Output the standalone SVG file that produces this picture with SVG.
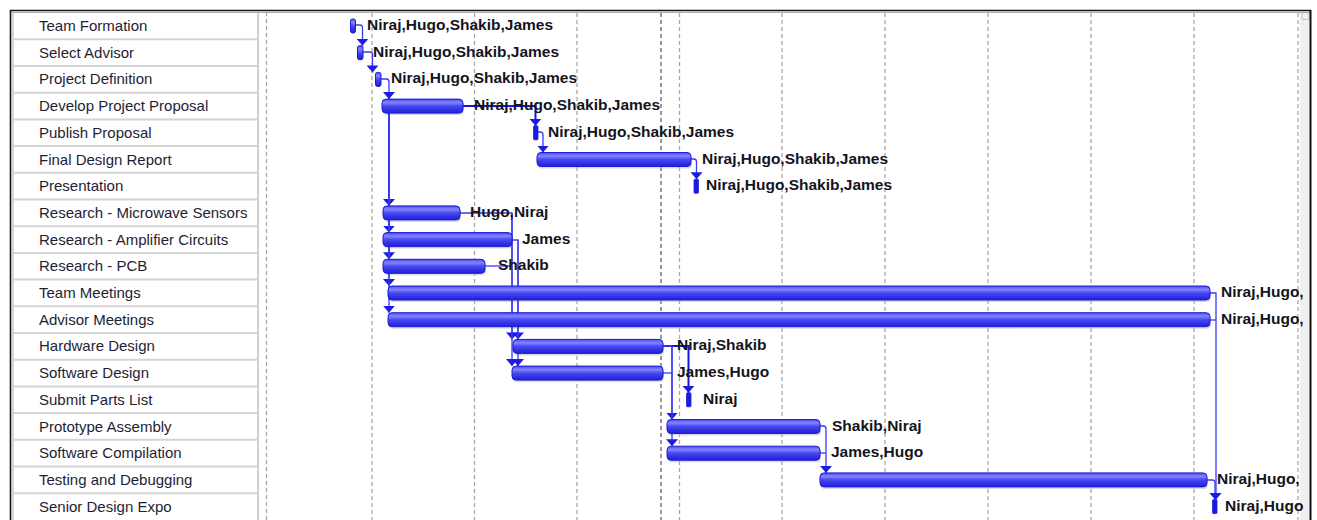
<svg xmlns="http://www.w3.org/2000/svg" width="1317" height="520" viewBox="0 0 1317 520">
<defs>
<linearGradient id="bg" x1="0" y1="0" x2="0" y2="1">
<stop offset="0" stop-color="#4a4af2"/>
<stop offset="0.25" stop-color="#8484ff"/>
<stop offset="0.5" stop-color="#4848f2"/>
<stop offset="1" stop-color="#1e1ed8"/>
</linearGradient>
<marker id="ah" viewBox="0 -6 7 12" refX="7" refY="0" markerWidth="7" markerHeight="12" orient="auto" markerUnits="userSpaceOnUse">
<path d="M0,-6 L7,0 L0,6 Z" fill="#1c1ce8"/>
</marker>
<style>
.name{font-family:"Liberation Sans",Arial,sans-serif;font-size:15px;fill:#1e1e34}
.res{font-family:"Liberation Sans",Arial,sans-serif;font-size:15.5px;font-weight:bold;fill:#14141c}
.bar{fill:url(#bg);stroke:#1c1cd0;stroke-width:1}
.sh{fill:#b8b8cc;opacity:0.55}
.mini{fill:#1a1ae6;stroke:#2020d0;stroke-width:0.8}
.sep{stroke:#d4d4d4;stroke-width:2}
.grid{stroke:#a8a8a8;stroke-width:1.3;stroke-dasharray:4 3}
.gdark{stroke:#606060;stroke-width:1.3;stroke-dasharray:4 3}
.c{fill:none;stroke:#3a3af4;stroke-width:1.3;marker-end:url(#ah)}
.cn{fill:none;stroke:#3a3af4;stroke-width:1.3}
.ct{fill:none;stroke:#1515e0;stroke-width:2;marker-end:url(#ah)}
</style>
</defs>
<rect x="0" y="0" width="1317" height="520" fill="#ffffff"/>
<g id="frame">
<rect x="1300" y="12" width="9" height="508" fill="#efefef"/>
<rect x="1302" y="12.5" width="7" height="7" fill="none" stroke="#bbbbbb" stroke-width="0.8"/>
<line x1="258" y1="12" x2="258" y2="520" stroke="#cfcfcf" stroke-width="2"/>
<line x1="266.5" y1="12" x2="266.5" y2="520" class="grid"/>
<line x1="10" y1="10.5" x2="1311" y2="10.5" stroke="#111" stroke-width="1.6"/>
<line x1="12" y1="12.5" x2="1310" y2="12.5" stroke="#9a9a9a" stroke-width="0.8"/>
<line x1="10.5" y1="10" x2="10.5" y2="520" stroke="#111" stroke-width="1.6"/>
<line x1="13" y1="12" x2="13" y2="520" stroke="#9a9a9a" stroke-width="0.8"/>
<line x1="1310.5" y1="10" x2="1310.5" y2="520" stroke="#111" stroke-width="2"/>
</g>
<g id="rows">
<line class="sep" x1="14" y1="39.3" x2="258" y2="39.3"/>
<line class="sep" x1="14" y1="66" x2="258" y2="66"/>
<line class="sep" x1="14" y1="92.7" x2="258" y2="92.7"/>
<line class="sep" x1="14" y1="119.4" x2="258" y2="119.4"/>
<line class="sep" x1="14" y1="146.1" x2="258" y2="146.1"/>
<line class="sep" x1="14" y1="172.8" x2="258" y2="172.8"/>
<line class="sep" x1="14" y1="199.5" x2="258" y2="199.5"/>
<line class="sep" x1="14" y1="226.2" x2="258" y2="226.2"/>
<line class="sep" x1="14" y1="252.9" x2="258" y2="252.9"/>
<line class="sep" x1="14" y1="279.6" x2="258" y2="279.6"/>
<line class="sep" x1="14" y1="306.3" x2="258" y2="306.3"/>
<line class="sep" x1="14" y1="333" x2="258" y2="333"/>
<line class="sep" x1="14" y1="359.7" x2="258" y2="359.7"/>
<line class="sep" x1="14" y1="386.4" x2="258" y2="386.4"/>
<line class="sep" x1="14" y1="413.1" x2="258" y2="413.1"/>
<line class="sep" x1="14" y1="439.8" x2="258" y2="439.8"/>
<line class="sep" x1="14" y1="466.5" x2="258" y2="466.5"/>
<line class="sep" x1="14" y1="493.2" x2="258" y2="493.2"/>
</g>
<g id="gridlines">
<line class="grid" x1="372" y1="13" x2="372" y2="520"/>
<line class="grid" x1="474.5" y1="13" x2="474.5" y2="520"/>
<line class="grid" x1="577" y1="13" x2="577" y2="520"/>
<line class="gdark" x1="661" y1="13" x2="661" y2="520"/>
<line class="grid" x1="679.5" y1="13" x2="679.5" y2="520"/>
<line class="grid" x1="782" y1="13" x2="782" y2="520"/>
<line class="grid" x1="885" y1="13" x2="885" y2="520"/>
<line class="grid" x1="988" y1="13" x2="988" y2="520"/>
<line class="grid" x1="1091" y1="13" x2="1091" y2="520"/>
<line class="grid" x1="1194" y1="13" x2="1194" y2="520"/>
<line class="grid" x1="1298" y1="13" x2="1298" y2="520"/>
</g>
<g id="shadows">
<rect class="sh" x="383" y="101.1" width="81" height="14" rx="4"/>
<rect class="sh" x="538" y="154.5" width="154" height="14" rx="4"/>
<rect class="sh" x="384" y="207.9" width="77" height="14" rx="4"/>
<rect class="sh" x="384" y="234.6" width="129" height="14" rx="4"/>
<rect class="sh" x="384" y="261.3" width="102" height="14" rx="4"/>
<rect class="sh" x="389" y="288" width="822" height="14" rx="4"/>
<rect class="sh" x="389" y="314.7" width="822" height="14" rx="4"/>
<rect class="sh" x="514" y="341.4" width="150" height="14" rx="4"/>
<rect class="sh" x="513" y="368.1" width="151" height="14" rx="4"/>
<rect class="sh" x="668" y="421.5" width="153" height="14" rx="4"/>
<rect class="sh" x="668" y="448.2" width="153" height="14" rx="4"/>
<rect class="sh" x="821" y="474.9" width="387" height="14" rx="4"/>
</g>
<g id="connectors">
<path class="c" d="M355.5,25 H360 Q362.5,25 362.5,28 V45.7"/>
<path class="c" d="M363,52 H370 Q372.5,52 372.5,55 V72.4"/>
<path class="c" d="M381,79 H386.5 Q389,79 389,82 V99.1"/>
<path class="ct" d="M463,106 H535.5 V125.8"/>
<path class="c" d="M538,132 H540.5 Q543,132 543,135 V152.5"/>
<path class="c" d="M691,159 H694 Q696.5,159 696.5,162 V179.2"/>
<path class="c" d="M389,113 V205.9"/>
<path class="c" d="M389,113 V232.6"/>
<path class="c" d="M389,113 V259.3"/>
<path class="c" d="M389,113 V286"/>
<path class="c" d="M389,113 V312.7"/>
<path class="c" d="M460,213 H512 V339.4"/>
<path class="c" d="M512,213 V366.1"/>
<path class="c" d="M512,240 H518 V339.4"/>
<path class="c" d="M518,240 V366.1"/>
<path class="cn" d="M485,266 H512"/>
<path class="ct" d="M663,346 H688.5 V392.8"/>
<path class="c" d="M663,346 H672 V419.5"/>
<path class="c" d="M672,346 V446.2"/>
<path class="cn" d="M663,373 H672"/>
<path class="c" d="M820,426 H823.5 Q826,426 826,429 V472.9"/>
<path class="cn" d="M820,453 H826"/>
<path class="c" d="M1207,480 H1212.5 Q1215,480 1215,483 V499.6"/>
<path class="c" d="M1210,293 H1216 V499.6"/>
<path class="cn" d="M1210,320 H1216"/>
</g>
<g id="t0"><text class="name" x="39" y="31">Team Formation</text><rect class="bar" x="350.5" y="19" width="5" height="14" rx="2"/><text class="res" x="367" y="30">Niraj,Hugo,Shakib,James</text></g>
<g id="t1"><text class="name" x="39" y="57.7">Select Advisor</text><rect class="bar" x="357.5" y="45.7" width="5.5" height="14" rx="2"/><text class="res" x="373" y="56.7">Niraj,Hugo,Shakib,James</text></g>
<g id="t2"><text class="name" x="39" y="84.4">Project Definition</text><rect class="bar" x="375.5" y="72.4" width="5.5" height="14" rx="2"/><text class="res" x="391" y="83.4">Niraj,Hugo,Shakib,James</text></g>
<g id="t3"><text class="name" x="39" y="111.1">Develop Project Proposal</text><rect class="bar" x="382" y="99.1" width="81" height="14" rx="4"/><text class="res" x="474" y="110.1">Niraj,Hugo,Shakib,James</text></g>
<g id="t4"><text class="name" x="39" y="137.8">Publish Proposal</text><rect class="mini" x="533.5" y="125.8" width="4.5" height="14" rx="1"/><text class="res" x="548" y="136.8">Niraj,Hugo,Shakib,James</text></g>
<g id="t5"><text class="name" x="39" y="164.5">Final Design Report</text><rect class="bar" x="537" y="152.5" width="154" height="14" rx="4"/><text class="res" x="702" y="163.5">Niraj,Hugo,Shakib,James</text></g>
<g id="t6"><text class="name" x="39" y="191.2">Presentation</text><rect class="mini" x="694" y="179.2" width="4.5" height="14" rx="1"/><text class="res" x="706" y="190.2">Niraj,Hugo,Shakib,James</text></g>
<g id="t7"><text class="name" x="39" y="217.9">Research - Microwave Sensors</text><rect class="bar" x="383" y="205.9" width="77" height="14" rx="4"/><text class="res" x="470" y="216.9">Hugo,Niraj</text></g>
<g id="t8"><text class="name" x="39" y="244.6">Research - Amplifier Circuits</text><rect class="bar" x="383" y="232.6" width="129" height="14" rx="4"/><text class="res" x="522" y="243.6">James</text></g>
<g id="t9"><text class="name" x="39" y="271.3">Research - PCB</text><rect class="bar" x="383" y="259.3" width="102" height="14" rx="4"/><text class="res" x="498" y="270.3">Shakib</text></g>
<g id="t10"><text class="name" x="39" y="298">Team Meetings</text><rect class="bar" x="388" y="286" width="822" height="14" rx="4"/><text class="res" x="1221" y="297">Niraj,Hugo,</text></g>
<g id="t11"><text class="name" x="39" y="324.7">Advisor Meetings</text><rect class="bar" x="388" y="312.7" width="822" height="14" rx="4"/><text class="res" x="1221" y="323.7">Niraj,Hugo,</text></g>
<g id="t12"><text class="name" x="39" y="351.4">Hardware Design</text><rect class="bar" x="513" y="339.4" width="150" height="14" rx="4"/><text class="res" x="677" y="350.4">Niraj,Shakib</text></g>
<g id="t13"><text class="name" x="39" y="378.1">Software Design</text><rect class="bar" x="512" y="366.1" width="151" height="14" rx="4"/><text class="res" x="677" y="377.1">James,Hugo</text></g>
<g id="t14"><text class="name" x="39" y="404.8">Submit Parts List</text><rect class="mini" x="686.5" y="392.8" width="4.5" height="14" rx="1"/><text class="res" x="703" y="403.8">Niraj</text></g>
<g id="t15"><text class="name" x="39" y="431.5">Prototype Assembly</text><rect class="bar" x="667" y="419.5" width="153" height="14" rx="4"/><text class="res" x="832" y="430.5">Shakib,Niraj</text></g>
<g id="t16"><text class="name" x="39" y="458.2">Software Compilation</text><rect class="bar" x="667" y="446.2" width="153" height="14" rx="4"/><text class="res" x="831" y="457.2">James,Hugo</text></g>
<g id="t17"><text class="name" x="39" y="484.9">Testing and Debugging</text><rect class="bar" x="820" y="472.9" width="387" height="14" rx="4"/><text class="res" x="1217" y="483.9">Niraj,Hugo,</text></g>
<g id="t18"><text class="name" x="39" y="511.6">Senior Design Expo</text><rect class="mini" x="1212.5" y="499.6" width="4.5" height="14" rx="1"/><text class="res" x="1225" y="510.6">Niraj,Hugo</text></g>
</svg>
